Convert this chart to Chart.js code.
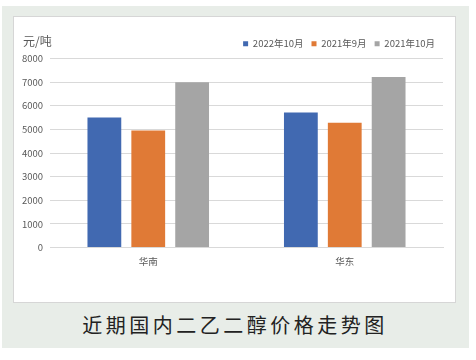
<!DOCTYPE html>
<html><head><meta charset="utf-8">
<script src="https://cdn.jsdelivr.net/npm/chart.js@4/dist/chart.umd.min.js"></script>
<style>
html,body{margin:0;padding:0;background:#fff;width:476px;height:360px;overflow:hidden;font-family:"Noto Sans CJK SC","Noto Sans",sans-serif;}
#outer{position:absolute;left:2px;top:6px;width:467px;height:342px;background:#e8ede8;}
#panel{position:absolute;left:13px;top:16px;width:441px;height:285px;background:#fff;border:1px solid #d6d6d6;}
#wrap{position:absolute;left:0;top:0;width:441px;height:285px;}
#unit{position:absolute;left:9px;top:15px;font-size:12px;color:#595959;}
#caption{position:absolute;left:0;top:310px;width:470px;text-align:center;font-size:20px;letter-spacing:3.5px;color:#222;}
</style></head>
<body>
<div id="outer"></div>
<div id="panel"><div id="wrap"><canvas id="c"></canvas></div><div id="unit">元/吨</div></div>
<div id="caption">近期国内二乙二醇价格走势图</div>
<script>
const categories = ["华南","华东"];
const seriesNames = ["2022年10月","2021年9月","2021年10月"];
const s2022Oct = [5500, 5720];
const s2021Sep = [4950, 5280];
const s2021Oct = [6990, 7220];
const yTicks = [0,1000,2000,3000,4000,5000,6000,7000,8000];
const colors = ["#4169b1","#e07a36","#a5a5a5"];

const font = {family:'"Noto Sans CJK SC","Noto Sans",sans-serif', size:9.5};
new Chart(document.getElementById('c'), {
  type:'bar',
  data:{
    labels:categories,
    datasets:[s2022Oct,s2021Sep,s2021Oct].map((d,i)=>({
      label:seriesNames[i], data:d, backgroundColor:colors[i],
      borderWidth:0,
      barPercentage:0.77, categoryPercentage:0.67
    }))
  },
  options:{
    responsive:true, maintainAspectRatio:false, animation:false,
    layout:{padding:{left:0,right:12,top:14,bottom:35}},
    plugins:{
      legend:{position:'top',align:'end',
        labels:{boxWidth:5,boxHeight:5,padding:8,color:'#595959',font:{family:font.family,size:9.5}}},
      tooltip:{enabled:false}
    },
    scales:{
      x:{grid:{display:false},border:{color:'#d9d9d9'},
         ticks:{color:'#595959',font:font,padding:0}},
      y:{min:0,max:8000,
         afterBuildTicks:(s)=>{s.ticks=yTicks.map(v=>({value:v}));},
         afterFit:(s)=>{s.width=36;},
         grid:{color:'#d9d9d9',drawTicks:false},border:{display:false},
         ticks:{color:'#595959',font:font,padding:7,callback:(v)=>String(v)}}
    }
  }
});
</script>
</body></html>
